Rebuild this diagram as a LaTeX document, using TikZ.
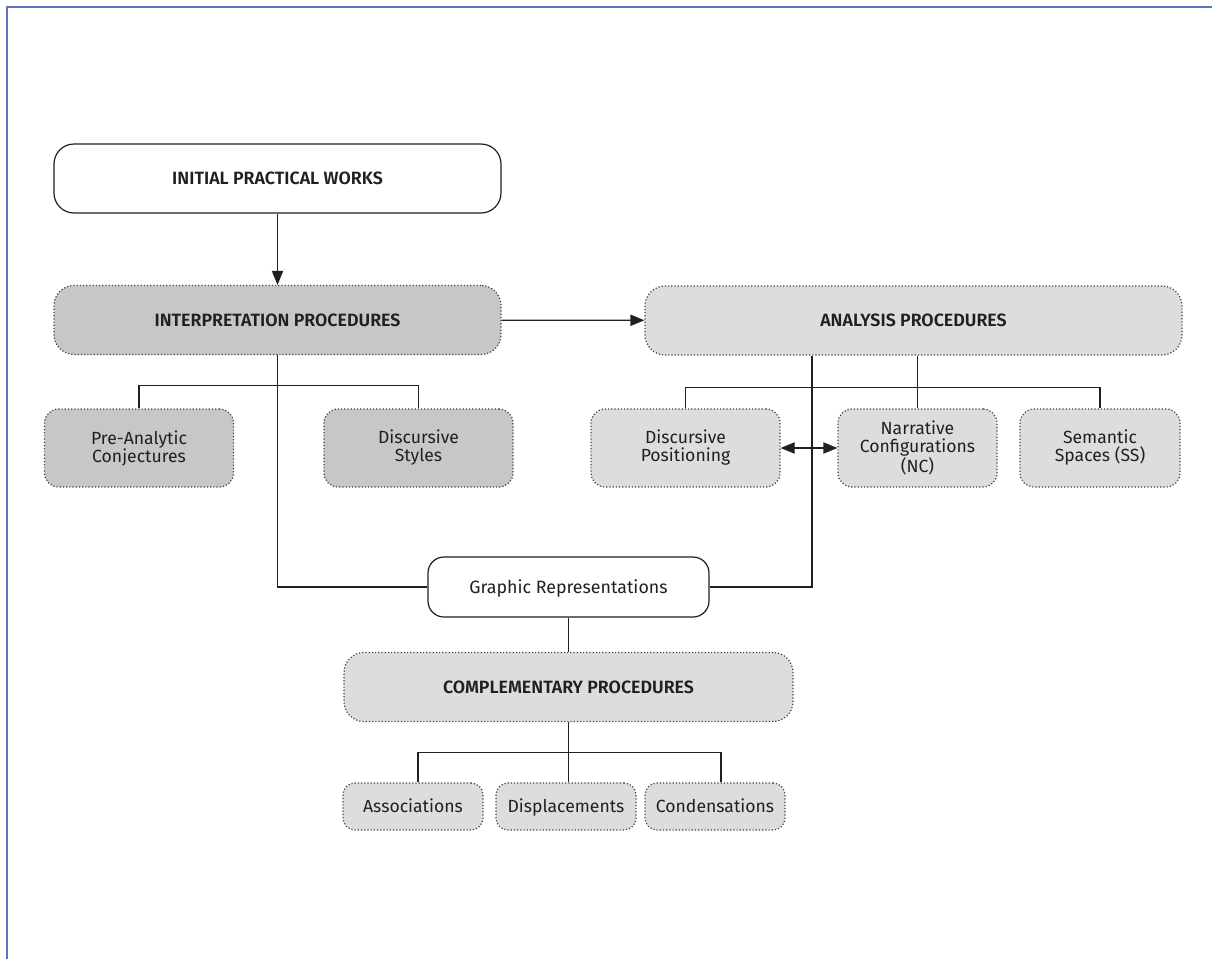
\documentclass[tikz,border=0pt]{standalone}
\usepackage{fontspec}
\setmainfont{Fira Sans}[BoldFont = {Fira Sans SemiBold}]
\usepackage{xcolor}
\usetikzlibrary{arrows.meta}
\definecolor{frameblue}{HTML}{6272C2}
\definecolor{darkbox}{HTML}{C7C7C9}
\definecolor{lightbox}{HTML}{DDDDDF}
\definecolor{ink}{HTML}{231F20}

\tikzset{
  solidbox/.style = {draw = ink, fill = white, rounded corners = 10pt, inner sep = 0pt, align = center, text = ink},
  procbox/.style = {draw = black!75, densely dotted, rounded corners = 10pt, inner sep = 0pt, align = center, text = ink},
  smallbox/.style = {procbox, rounded corners = 7pt, minimum height = 39pt, font = \fontsize{8.8}{9}\selectfont},
  titletext/.style = {font = \fontsize{8.9}{11}\selectfont\bfseries, text height = 6.4pt, text depth = 0pt}
}

\begin{document}
\begin{tikzpicture}[x = 0.5pt, y = -0.5pt, line width = 0.6pt, >={Triangle[length = 7pt, width = 5.6pt]}]
  \useasboundingbox (0,0) rectangle (1212,959);
  \draw[frameblue, line width = 1pt] (7,959) -- (7,7) -- (1212,7);

  \begin{scope}[titletext, minimum height = 34.5pt]
    \node[solidbox, minimum width = 223.5pt] (initial) at (277.5,178.5) {INITIAL PRACTICAL WORKS};
    \node[procbox, fill = darkbox, minimum width = 223.5pt] (interp) at (277.5,320) {INTERPRETATION PROCEDURES};
    \node[procbox, fill = lightbox, minimum width = 268.5pt] (analysis) at (913.5,320.5) {ANALYSIS PROCEDURES};
    \node[procbox, fill = lightbox, minimum width = 224.5pt] (complem) at (568.5,687) {COMPLEMENTARY PROCEDURES};
  \end{scope}

  \node[smallbox, fill = darkbox, minimum width = 94.5pt] (preanal) at (139,448) {Pre-Analytic\\Conjectures};
  \node[smallbox, fill = darkbox, minimum width = 94.5pt] (discstyle) at (418.5,448) {Discursive\\Styles};
  \node[smallbox, fill = lightbox, minimum width = 94.5pt] (discpos) at (685.5,448) {Discursive\\Positioning};
  \node[smallbox, fill = lightbox, minimum width = 79.5pt] (narrconf) at (917.5,448) {Narrative\\Configurations\\(NC)};
  \node[smallbox, fill = lightbox, minimum width = 80pt] (semspace) at (1100,448) {Semantic\\Spaces (SS)};

  \node[solidbox, rounded corners = 8pt, minimum width = 140.5pt, minimum height = 30pt,
        font = \fontsize{8.9}{11}\selectfont, text height = 6.4pt, text depth = 0pt] (graphrep) at (568.5,587) {Graphic Representations};

  \begin{scope}[nodes = {smallbox, fill = lightbox, minimum width = 70pt, minimum height = 23.5pt, rounded corners = 6pt,
                text height = 6.2pt, text depth = 0pt}]
    \node (assoc) at (413,806.5) {Associations};
    \node (displ) at (566,806.5) {Displacements};
    \node (conden) at (715,806.5) {Condensations};
  \end{scope}

  \coordinate (ib) at (277.5,385.5);
  \coordinate (ab) at (917.5,387.5);
  \coordinate (ar) at (812,587);
  \coordinate (cb) at (568.5,752.5);

  \begin{scope}[draw = ink]
    \draw[->] (initial) -- (interp);
    \draw[->] (interp) -- (analysis);
    \draw[<->] (discpos) -- (narrconf);
    \draw (preanal.north) |- (ib) -| (discstyle.north);
    \draw (interp.south) |- (graphrep.west);
    \draw (discpos.north) |- (ab) -| (semspace.north);
    \draw (analysis.south -| narrconf.north) -- (narrconf.north);
    \draw (analysis.south -| ar) -- (ar) -- (graphrep.east);
    \draw (graphrep) -- (complem);
    \draw (complem.south) -- (complem.south |- displ.north);
    \draw ([xshift = 2.5pt]assoc.north) |- (cb) -| ([xshift = 3pt]conden.north);
  \end{scope}
\end{tikzpicture}
\end{document}
